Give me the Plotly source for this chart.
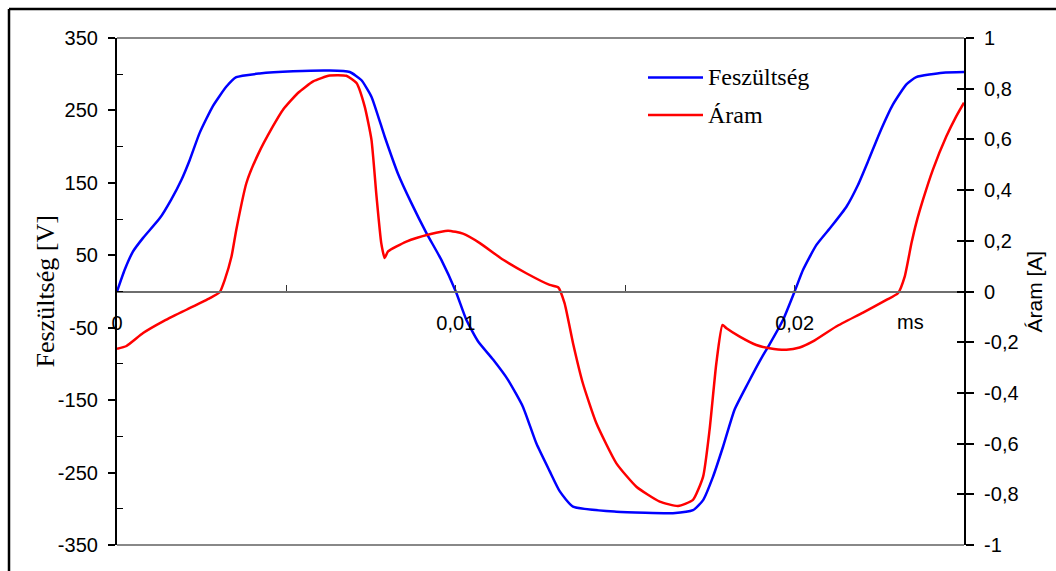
import plotly.graph_objects as go

# ---- data (time in s, voltage in V, current in A) ----
t_volt = [0, 0.000227, 0.00047, 0.00077, 0.00126, 0.0016, 0.0019, 0.00215, 0.00244, 0.00283,
          0.00323, 0.00352, 0.00421, 0.0052, 0.00628, 0.00687, 0.00721, 0.00751, 0.0079,
          0.00829, 0.00869, 0.00913, 0.00957, 0.01, 0.01031, 0.01066, 0.0111, 0.01154,
          0.01198, 0.01238, 0.01277, 0.01307, 0.01346, 0.01474, 0.01641, 0.017, 0.0173,
          0.01759, 0.01789, 0.01823, 0.01862, 0.01902, 0.01926, 0.01966, 0.02, 0.02025,
          0.02064, 0.02109, 0.02153, 0.02187, 0.02217, 0.02251, 0.0229, 0.0233, 0.02359,
          0.02438, 0.025]
voltage = [0, 30, 55, 74, 101, 127, 154, 182, 219, 256,
           283, 296, 301, 304, 305, 303, 292, 269, 214,
           163, 122, 81, 44, 0, -39, -69, -94, -122,
           -159, -210, -248, -276, -297, -304, -306, -302, -288,
           -256, -214, -163, -127, -92, -73, -39, 0, 30,
           64, 90, 117, 147, 180, 219, 258, 286, 296,
           302, 303]

t_curr = [0, 0.00028, 0.00077, 0.00136, 0.00205, 0.00274, 0.00303, 0.00318, 0.00338, 0.00352,
          0.00382, 0.00416, 0.0046, 0.0049, 0.00534, 0.00579, 0.00628, 0.00677, 0.00707,
          0.00731, 0.00751, 0.00766, 0.0078, 0.0079, 0.008, 0.00854, 0.00923, 0.00977,
          0.01021, 0.01071, 0.0114, 0.01208, 0.01277, 0.01302, 0.01321, 0.01346, 0.01375,
          0.01415, 0.01474, 0.01533, 0.01602, 0.01656, 0.017, 0.0173, 0.01749, 0.01769,
          0.01787, 0.01799, 0.01838, 0.01887, 0.01926, 0.01976, 0.02015, 0.02054, 0.02123,
          0.02202, 0.02271, 0.02305, 0.02325, 0.02345, 0.02359, 0.02379, 0.02408, 0.02448,
          0.02477, 0.025]
current = [-0.226, -0.215, -0.164, -0.118, -0.072, -0.026, -0.003, 0.046, 0.138, 0.243,
           0.428, 0.54, 0.651, 0.717, 0.783, 0.829, 0.852, 0.851, 0.822,
           0.73, 0.599, 0.375, 0.191, 0.132, 0.158, 0.197, 0.226, 0.24,
           0.228, 0.191, 0.125, 0.072, 0.026, 0.017, -0.046, -0.204, -0.362,
           -0.52, -0.678, -0.77, -0.829, -0.846, -0.822, -0.73, -0.546, -0.283,
           -0.132, -0.145, -0.178, -0.211, -0.224, -0.23, -0.221, -0.197, -0.138,
           -0.083, -0.033, -0.007, 0.059, 0.191, 0.27, 0.362, 0.48, 0.612,
           0.691, 0.745]

x_tickvals = [0, 0.01, 0.02]
x_ticktext = ["0", "0,01", "0,02"]
x_minor = [0.005, 0.015]
v_tickvals = [350, 250, 150, 50, -50, -150, -250, -350]
v_ticktext = ["350", "250", "150", "50", "-50", "-150", "-250", "-350"]
v_minor = [300, 200, 100, 0, -100, -200, -300]
i_tickvals = [1, 0.8, 0.6, 0.4, 0.2, 0, -0.2, -0.4, -0.6, -0.8, -1]
i_ticktext = ["1", "0,8", "0,6", "0,4", "0,2", "0", "-0,2", "-0,4", "-0,6", "-0,8", "-1"]

series_names = ["Feszültség", "Áram"]
series_colors = ["#0000FF", "#FF0000"]

SANS = "Liberation Sans, Arial, sans-serif"
SERIF = "Liberation Serif, Times New Roman, serif"

fig = go.Figure()
fig.add_trace(go.Scatter(x=t_volt, y=voltage, mode="lines", name=series_names[0],
                         line=dict(color=series_colors[0], width=2.5, shape="spline",
                                   smoothing=0.5),
                         yaxis="y", showlegend=False))
fig.add_trace(go.Scatter(x=t_curr, y=current, mode="lines", name=series_names[1],
                         line=dict(color=series_colors[1], width=2.5, shape="spline",
                                   smoothing=0.5),
                         yaxis="y2", showlegend=False))

W, H = 1056, 571
ml, mr, mt, mb = 117, 92, 38, 26
pw, ph = W - ml - mr, H - mt - mb


def px2paper_x(px):
    return (px - ml) / pw


def px2paper_y(py):
    return (H - mb - py) / ph


fig.update_layout(
    width=W, height=H,
    margin=dict(l=ml, r=mr, t=mt, b=mb),
    paper_bgcolor="white", plot_bgcolor="white",
    font=dict(family=SANS, size=20, color="black"),
    xaxis=dict(range=[0, 0.025], anchor="free", position=0.5,
               showgrid=False, zeroline=False,
               showline=True, linecolor="#6e6e6e", linewidth=1.6,
               tickmode="array", tickvals=x_tickvals, ticktext=x_ticktext,
               ticks="inside", ticklen=6, tickwidth=1.2, tickcolor="#333333",
               minor=dict(tickvals=x_minor, ticks="inside", ticklen=6, tickwidth=1.2,
                          tickcolor="#333333", showgrid=False),
               ticklabelstandoff=14,
               tickfont=dict(family=SANS, size=20)),
    yaxis=dict(range=[-350, 350], showgrid=False, zeroline=False,
               showline=True, linecolor="black", linewidth=2.2,
               tickmode="array", tickvals=v_tickvals, ticktext=v_ticktext,
               ticks="outside", ticklen=7, tickwidth=1.5, tickcolor="black",
               minor=dict(tickvals=v_minor, ticks="inside", ticklen=6, tickwidth=1.2,
                          tickcolor="black", showgrid=False),
               ticklabelstandoff=6,
               tickfont=dict(family=SANS, size=20)),
    yaxis2=dict(range=[-1, 1], overlaying="y", side="right", anchor="x",
                showgrid=False, zeroline=False,
                showline=True, linecolor="black", linewidth=2.2,
                tickmode="array", tickvals=i_tickvals, ticktext=i_ticktext,
                ticks="outside", ticklen=8, tickwidth=1.5, tickcolor="black",
                ticklabelstandoff=6,
                tickfont=dict(family=SANS, size=20)),
    yaxis3=dict(range=[-1, 1], overlaying="y", side="right", anchor="x",
                showgrid=False, zeroline=False, showline=False,
                tickmode="array", tickvals=i_tickvals, showticklabels=False,
                ticks="inside", ticklen=7, tickwidth=1.5, tickcolor="black"),
)

# invisible trace to activate yaxis3 (crossing ticks on right axis)
fig.add_trace(go.Scatter(x=[None], y=[None], yaxis="y3", showlegend=False,
                         hoverinfo="skip"))

shapes = []
# gray top and bottom plot-area lines
for yp in (0, 1):
    shapes.append(dict(type="line", xref="paper", yref="paper", x0=0, x1=1, y0=yp, y1=yp,
                       line=dict(color="#888888", width=2), layer="below"))
# outer frame (top and left edges visible)
fx = px2paper_x(9)
fy = px2paper_y(9)
shapes.append(dict(type="line", xref="paper", yref="paper", x0=fx, x1=px2paper_x(W + 5),
                   y0=fy, y1=fy, line=dict(color="black", width=2.5)))
shapes.append(dict(type="line", xref="paper", yref="paper", x0=fx, x1=fx,
                   y0=fy, y1=px2paper_y(H + 5), line=dict(color="black", width=2.5)))

annotations = []
# manual legend
leg_y = [77.5, 115]
for name, color, py in zip(series_names, series_colors, leg_y):
    yp = px2paper_y(py)
    shapes.append(dict(type="line", xref="paper", yref="paper",
                       x0=px2paper_x(648), x1=px2paper_x(703), y0=yp, y1=yp,
                       line=dict(color=color, width=2.5)))
    annotations.append(dict(xref="paper", yref="paper", x=px2paper_x(706), y=yp,
                            text=name, showarrow=False, xanchor="left", yanchor="middle",
                            font=dict(family=SERIF, size=24, color="black")))

# axis titles
annotations.append(dict(xref="paper", yref="paper", x=px2paper_x(45), y=0.5,
                        text="Feszültség [V]", textangle=-90, showarrow=False,
                        xanchor="center", yanchor="middle",
                        font=dict(family=SERIF, size=26, color="black")))
annotations.append(dict(xref="paper", yref="paper", x=px2paper_x(1034), y=0.5,
                        text="Áram [A]", textangle=-90, showarrow=False,
                        xanchor="center", yanchor="middle",
                        font=dict(family=SANS, size=21, color="black")))
# unit label on x axis
annotations.append(dict(xref="paper", yref="paper", x=px2paper_x(910), y=px2paper_y(322),
                        text="ms", showarrow=False, xanchor="center", yanchor="middle",
                        font=dict(family=SANS, size=20, color="black")))

fig.update_layout(shapes=shapes, annotations=annotations)

fig.write_html("out.html")
